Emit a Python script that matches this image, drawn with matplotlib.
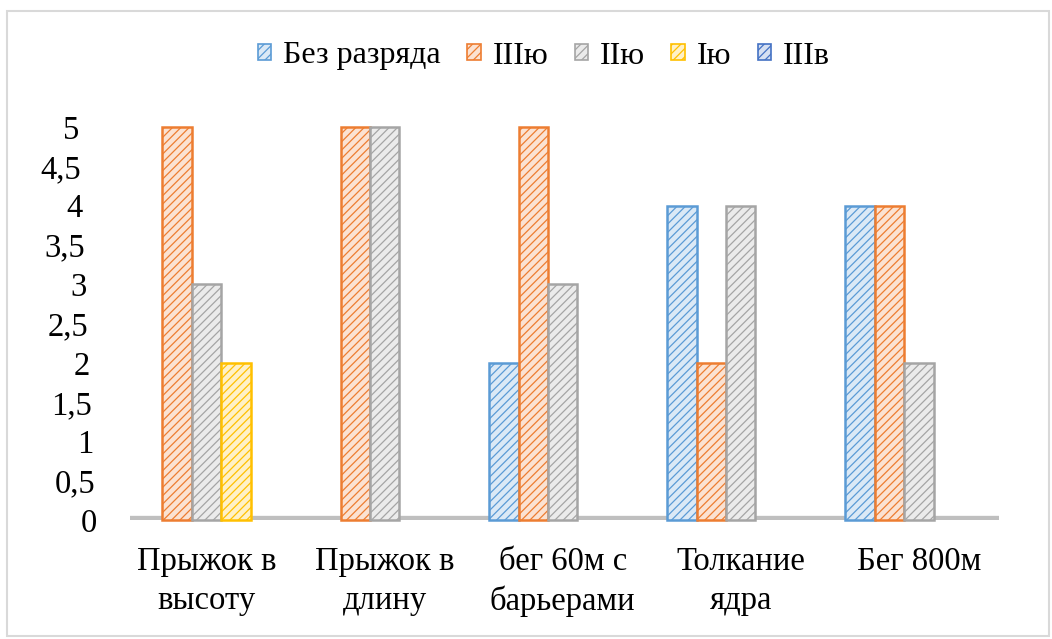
import numpy as np
import matplotlib
matplotlib.use("Agg")
from matplotlib import pyplot as plt
from matplotlib.patches import Patch, Rectangle
from matplotlib.ticker import FuncFormatter, MultipleLocator
from matplotlib.transforms import ScaledTranslation

plt.rcParams["font.family"] = ["Liberation Serif", "DejaVu Serif"]
plt.rcParams["hatch.linewidth"] = 0.9

categories = ["Прыжок в\nвысоту", "Прыжок в\nдлину", "бег 60м с\nбарьерами", "Толкание\nядра", "Бег 800м"]
series_names = ["Без разряда", "IIIю", "IIю", "Iю", "IIIв"]
bez_razryada = [0, 0, 2, 4, 4]
iii_yu = [5, 5, 5, 2, 4]
ii_yu = [3, 5, 3, 4, 2]
i_yu = [2, 0, 0, 0, 0]
iii_v = [0, 0, 0, 0, 0]
series_values = [bez_razryada, iii_yu, ii_yu, i_yu, iii_v]
colors = ["#5B9BD5", "#ED7D31", "#A5A5A5", "#FFC000", "#4472C4"]


def tint(c, k=0.78):
    rgb = np.array(matplotlib.colors.to_rgb(c))
    return tuple(rgb + (1 - rgb) * k)


fig = plt.figure(figsize=(10.52, 6.39), dpi=100)
ax = fig.add_axes([130 / 1052, 1 - 520 / 639, 869 / 1052, 393 / 639])

x = np.arange(len(categories))
w = 0.165
for k, (vals, col) in enumerate(zip(series_values, colors)):
    for xi, v in zip(x, vals):
        if v <= 0:
            continue  # нулевые столбцы не рисуются
        ax.bar(xi + (k - 2) * w, v, width=w, facecolor=tint(col), edgecolor=col,
               linewidth=1.8, hatch="////", zorder=3, clip_on=False)

# "пол" диаграммы
ax.axhline(0, color="#BFBFBF", lw=6, zorder=1, solid_capstyle="butt")

ax.set_xlim(-0.43, 4.45)
ax.set_ylim(0, 5)
ax.set_xticks(x)
ax.set_xticklabels(categories, fontsize=23.5, linespacing=1.35)
ax.yaxis.set_major_locator(MultipleLocator(0.5))
ax.yaxis.set_major_formatter(FuncFormatter(lambda v, _: f"{v:g}".replace(".", ",")))
ax.tick_params(axis="y", labelsize=23.5, length=0, pad=24)
ax.tick_params(axis="x", length=0, pad=19)
for s in ax.spines.values():
    s.set_visible(False)

# лёгкий наклон подписей оси Y (перспектива)
fig.canvas.draw()
for lbl, v in zip(ax.get_yticklabels(), ax.get_yticks()):
    lbl.set_transform(lbl.get_transform() + ScaledTranslation(-v / 5 * 0.17, 0, fig.dpi_scale_trans))

handles = [Patch(facecolor=tint(c), edgecolor=c, hatch="////", linewidth=1.2) for c in colors]
fig.legend(handles, series_names, loc="center", bbox_to_anchor=(544 / 1052, 1 - 56 / 639),
           ncol=5, frameon=False, fontsize=23, handlelength=0.42, handleheight=0.42,
           handletextpad=0.38, columnspacing=0.82)

fig.patches.append(Rectangle((7 / 1052, 3 / 639), 1042 / 1052, 625 / 639, transform=fig.transFigure,
                             fill=False, edgecolor="#D9D9D9", lw=1.5))

fig.savefig("out.png", dpi=100)
